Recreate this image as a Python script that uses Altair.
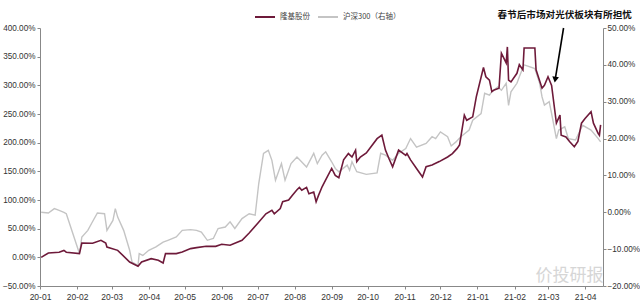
import altair as alt
import pandas as pd

series_names = ["隆基股份", "沪深300（右轴）"]
series_colors = ["#6e1a3a", "#c4c4c4"]

lg_dates = ["2020-01-02", "2020-01-08", "2020-01-17", "2020-01-21", "2020-01-23", "2020-02-03", "2020-02-05",
            "2020-02-14", "2020-02-21", "2020-02-25", "2020-02-26", "2020-03-06", "2020-03-16", "2020-03-23",
            "2020-03-26", "2020-04-03", "2020-04-09", "2020-04-13", "2020-04-15", "2020-04-24", "2020-04-29",
            "2020-05-06", "2020-05-11", "2020-05-19", "2020-05-27", "2020-06-01", "2020-06-08", "2020-06-18",
            "2020-06-24", "2020-07-01", "2020-07-08", "2020-07-13", "2020-07-15", "2020-07-20", "2020-07-22",
            "2020-07-27", "2020-07-30", "2020-08-03", "2020-08-05", "2020-08-07", "2020-08-11", "2020-08-13",
            "2020-08-17", "2020-08-19", "2020-08-21", "2020-08-24", "2020-08-27", "2020-09-01", "2020-09-04",
            "2020-09-07", "2020-09-11", "2020-09-15", "2020-09-18", "2020-09-21", "2020-09-22", "2020-09-25",
            "2020-09-30", "2020-10-09", "2020-10-13", "2020-10-16", "2020-10-19", "2020-10-22", "2020-10-27",
            "2020-11-02", "2020-11-03", "2020-11-06", "2020-11-11", "2020-11-16", "2020-11-19", "2020-11-24",
            "2020-11-30", "2020-12-07", "2020-12-11", "2020-12-15", "2020-12-17", "2020-12-21", "2020-12-23",
            "2020-12-28", "2020-12-31", "2021-01-06", "2021-01-08", "2021-01-11", "2021-01-13", "2021-01-15",
            "2021-01-19", "2021-01-21", "2021-01-25", "2021-01-26", "2021-01-27", "2021-01-29", "2021-02-03",
            "2021-02-05", "2021-02-08", "2021-02-09", "2021-02-18", "2021-02-19", "2021-02-24", "2021-02-26",
            "2021-03-01", "2021-03-04", "2021-03-08", "2021-03-11", "2021-03-12", "2021-03-16", "2021-03-19",
            "2021-03-23", "2021-03-26", "2021-03-29", "2021-04-01", "2021-04-06", "2021-04-08", "2021-04-12",
            "2021-04-13", "2021-04-14"]
lg_vals = [0, 7.5, 9, 12, 9, 6.5, 25,
           24.5, 29.7, 25, 18, 12.2, -8.2, -15.7,
           -8.2, -2.3, -5.2, -10, 6.5, 6.5, 9.3,
           15.2, 17, 19.2, 19.2, 22.7, 21, 29.7,
           42.5, 59, 76, 82, 76, 85, 97,
           100, 108, 118, 122, 117, 122, 111,
           114, 97, 108, 123, 135, 155, 143,
           139, 170, 181, 175, 187, 167, 175,
           182, 207, 213, 187, 172, 158, 187,
           178, 181, 170, 155, 140, 158, 161,
           167, 175, 181, 190, 196, 248, 239,
           245, 280, 331, 315, 309, 289, 292,
           295, 356, 339, 367, 309, 306, 321,
           336, 327, 365, 365, 327, 295, 300,
           315, 300, 234, 248, 213, 210, 202,
           193, 202, 234, 242, 254, 234, 216,
           213, 231]

hs_dates = ["2020-01-02", "2020-01-08", "2020-01-13", "2020-01-17", "2020-01-21", "2020-01-23", "2020-02-03",
            "2020-02-05", "2020-02-10", "2020-02-13", "2020-02-18", "2020-02-24", "2020-02-26", "2020-03-02",
            "2020-03-04", "2020-03-06", "2020-03-11", "2020-03-16", "2020-03-18", "2020-03-23", "2020-03-24",
            "2020-03-27", "2020-04-01", "2020-04-07", "2020-04-13", "2020-04-17", "2020-04-24", "2020-04-29",
            "2020-05-06", "2020-05-11", "2020-05-15", "2020-05-20", "2020-05-25", "2020-05-29", "2020-06-04",
            "2020-06-08", "2020-06-12", "2020-06-18", "2020-06-24", "2020-06-29", "2020-07-02", "2020-07-06",
            "2020-07-10", "2020-07-13", "2020-07-16", "2020-07-21", "2020-07-24", "2020-07-29", "2020-08-03",
            "2020-08-11", "2020-08-17", "2020-08-20", "2020-08-24", "2020-08-27", "2020-09-01", "2020-09-04",
            "2020-09-07", "2020-09-14", "2020-09-16", "2020-09-18", "2020-09-22", "2020-09-30", "2020-10-09",
            "2020-10-12", "2020-10-16", "2020-10-22", "2020-10-27", "2020-11-02", "2020-11-06", "2020-11-11",
            "2020-11-19", "2020-11-24", "2020-11-27", "2020-12-01", "2020-12-07", "2020-12-10", "2020-12-14",
            "2020-12-18", "2020-12-23", "2020-12-25", "2020-12-28", "2021-01-04", "2021-01-07", "2021-01-11",
            "2021-01-13", "2021-01-18", "2021-01-21", "2021-01-25", "2021-01-27", "2021-01-29", "2021-02-03",
            "2021-02-05", "2021-02-09", "2021-02-18", "2021-02-19", "2021-02-22", "2021-02-24", "2021-02-26",
            "2021-03-02", "2021-03-04", "2021-03-08", "2021-03-10", "2021-03-15", "2021-03-18", "2021-03-24",
            "2021-03-30", "2021-04-06", "2021-04-12", "2021-04-14"]
hs_vals = [0, -0.2, 1.0, 0.5, 0, -0.4, -11.2,
           -6.7, -4.9, -3.1, -0.2, -0.4, -4.9, -2.2,
           1.0, -1.3, -4.9, -10.3, -13.5, -14.4, -11.2,
           -11.7, -10.3, -9.4, -8.1, -7.6, -6.7, -4.9,
           -4.7, -4.9, -5.4, -7.6, -7.1, -4.4, -4.0,
           -2.6, -4.4, -1.7, -0.4, -0.8, 7.8, 16,
           16.8, 14.1, 8.7, 13.2, 8.7, 13.2, 15,
           12.3, 16, 13.2, 15.5, 16.4, 13.7, 11.9,
           11, 12.8, 11.4, 13.7, 11, 10.3, 10.7,
           16, 15.5, 14.1, 16, 17.3, 20, 17.7,
           18.7, 20.5, 20, 21.8, 20.5, 18, 19.1,
           20.5, 21.8, 22.3, 25, 26.8, 32.3, 31.8,
           32.7, 34, 33.1, 35, 29, 32.7, 35,
           36.8, 40, 39, 38, 35, 31.3, 29.1,
           30, 26.8, 20, 22.3, 23.2, 20, 19.6,
           23.6, 22.3, 20, 19.1]

left_ticks = [-50, 0, 50, 100, 150, 200, 250, 300, 350, 400]
right_ticks = [-20, -10, 0, 10, 20, 30, 40, 50]

note_text = ["春节后市场对光伏板块有所担忧"]
note_date = ["2021-03-15"]
note_val = [423]
arrow_start = ["2021-03-14"]
arrow_start_val = [400]
arrow_end = ["2021-03-07"]
arrow_end_val = [310]
watermark = ["价投研报"]
watermark_date = ["2021-03-19"]
watermark_val = [-33]

lg = pd.DataFrame({"date": lg_dates, "value": lg_vals, "series": series_names[0]})
hs = pd.DataFrame({"date": hs_dates, "value": hs_vals, "series": series_names[1]})
note_df = pd.DataFrame({"date": note_date, "value": note_val, "text": note_text})
arrow_df = pd.DataFrame({"date": arrow_start, "value": arrow_start_val,
                         "date2": arrow_end, "value2": arrow_end_val})
wm_df = pd.DataFrame({"date": watermark_date, "value": watermark_val, "text": watermark})

FONT = "Liberation Sans"
x_scale = alt.Scale(domain=[alt.DateTime(year=2020, month=1, date=1),
                            alt.DateTime(year=2021, month=4, date=16)])
x_axis = alt.Axis(format="%y-%m", tickCount={"interval": "month", "step": 1}, title=None,
                  labelOverlap=False, labelFlush=False, grid=False, domainColor="#888888",
                  tickColor="#888888", tickSize=3, labelFontSize=8.5, labelColor="#333333",
                  labelFont=FONT, labelPadding=3)

left_scale = alt.Scale(domain=[-50, 400], nice=False, zero=False)
right_scale = alt.Scale(domain=[-20, 50], nice=False, zero=False)

color = alt.Color("series:N",
                  scale=alt.Scale(domain=series_names, range=series_colors),
                  legend=alt.Legend(title=None, orient="none", legendX=214, legendY=-22,
                                    direction="horizontal", symbolType="stroke", symbolSize=400,
                                    symbolStrokeWidth=2, labelFontSize=7.5, labelColor="#444444",
                                    labelFont="Noto Sans CJK SC", columnPadding=4))

pct = "format(datum.value, '.2f') + '%'"

left_axis = alt.Axis(orient="left", values=left_ticks, labelExpr=pct, title=None, grid=False,
                     labelOverlap=False, labelFlush=False,
                     domainColor="#888888", tickColor="#888888", tickSize=3, labelPadding=2,
                     labelFontSize=8.2, labelColor="#333333", labelFont=FONT)

gray = alt.Chart(hs).mark_line(strokeWidth=1.4).encode(
    x=alt.X("date:T", scale=x_scale, axis=x_axis),
    y=alt.Y("value:Q", scale=right_scale,
            axis=alt.Axis(orient="right", values=right_ticks, labelExpr=pct, title=None, grid=False,
                          labelOverlap=False, labelFlush=False,
                          domainColor="#888888", tickColor="#888888", tickSize=3, labelPadding=1,
                          labelFontSize=8.2, labelColor="#333333", labelFont=FONT)),
    color=color,
)

dark = alt.Chart(lg).mark_line(strokeWidth=1.6).encode(
    x=alt.X("date:T", scale=x_scale, axis=x_axis),
    y=alt.Y("value:Q", scale=left_scale, axis=left_axis),
    color=color,
)

arrow = alt.Chart(arrow_df).mark_rule(color="black", strokeWidth=1.6).encode(
    x=alt.X("date:T", scale=x_scale, axis=x_axis),
    y=alt.Y("value:Q", scale=left_scale, axis=left_axis),
    x2="date2:T", y2="value2:Q")
head = alt.Chart(arrow_df).mark_point(shape="triangle-down", filled=True, color="black",
                                      size=45, angle=9, opacity=1).encode(
    x=alt.X("date2:T", scale=x_scale, axis=x_axis),
    y=alt.Y("value2:Q", scale=left_scale, axis=left_axis))
note = alt.Chart(note_df).mark_text(font="Noto Sans CJK SC", fontWeight="bold", fontSize=9.6,
                                    color="#111111").encode(
    x=alt.X("date:T", scale=x_scale, axis=x_axis),
    y=alt.Y("value:Q", scale=left_scale, axis=left_axis), text="text:N")
wm = alt.Chart(wm_df).mark_text(font="Noto Sans CJK SC", fontSize=17, color="#d6d6d6").encode(
    x=alt.X("date:T", scale=x_scale, axis=x_axis),
    y=alt.Y("value:Q", scale=left_scale, axis=left_axis), text="text:N")

left_layer = alt.layer(dark, arrow, head, note, wm)

chart = alt.layer(gray, left_layer).resolve_scale(y="independent").properties(
    width=563, height=258,
    padding={"left": 40, "top": 28, "right": 37, "bottom": 18},
    autosize=alt.AutoSizeParams(type="none"),
    background="white",
).configure_view(stroke=None).configure_axis(labelOverlap=False)

chart.save("out.html", embed_options={"renderer": "svg", "actions": False})
